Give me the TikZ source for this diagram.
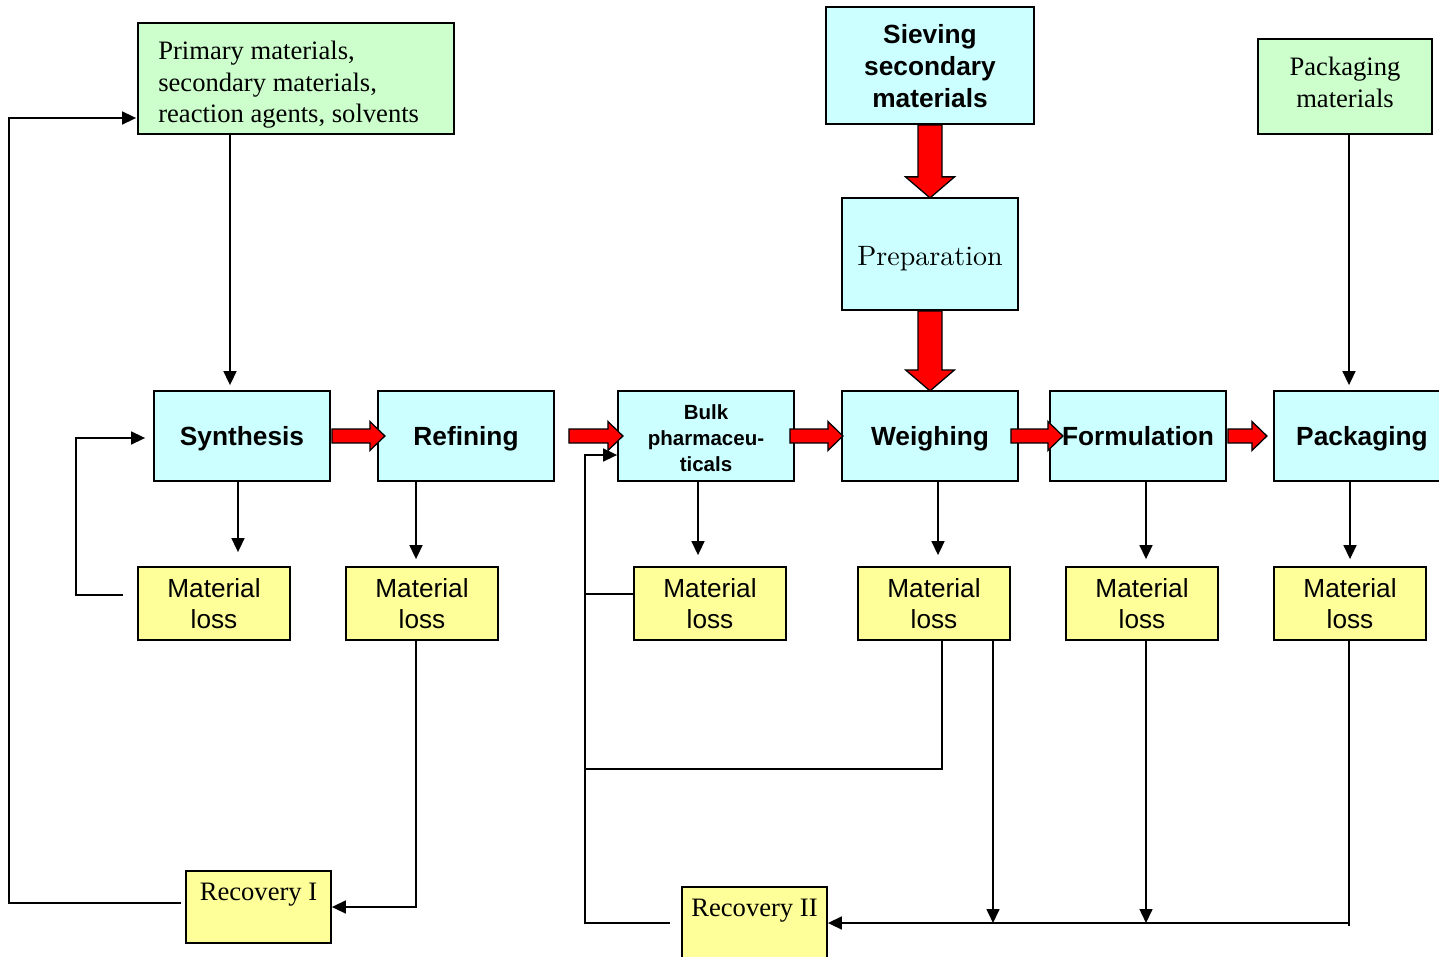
\documentclass[tikz,border=0pt]{standalone}
\usepackage{fontspec}
\newfontfamily\arialfont{Liberation Sans}
\newfontfamily\timesfont{Liberation Serif}
\newfontfamily\lmten{lmroman10-regular}[Extension=.otf]
\usetikzlibrary{arrows.meta,calc}

\definecolor{procfill}{HTML}{CCFFFF}
\definecolor{inputfill}{HTML}{CCFFCC}
\definecolor{lossfill}{HTML}{FFFF99}
\definecolor{flowred}{HTML}{FF0000}

% red block arrow pointing right: start point, total length
\newcommand{\flowright}[2]{%
  \draw[blockarr] ($#1+(0,-7)$) -- ++({#2-15},0) -- ++(0,-7.5) -- ++(15,14.5)
    -- ++(-15,14.5) -- ++(0,-7.5) -- ++({-#2+15},0) -- cycle;}
% red block arrow pointing down: start point, total length
\newcommand{\flowdown}[2]{%
  \draw[blockarr] ($#1+(-12,0)$) -- ++(0,{#2-21}) -- ++(-12.5,0) -- ++(24.5,21)
    -- ++(24.5,-21) -- ++(-12.5,0) -- ++(0,{-#2+21}) -- cycle;}

\begin{document}
\begin{tikzpicture}[x=1pt,y=-1pt,
  box/.style={draw=black, line width=1.8pt, rectangle, inner sep=0pt, align=center},
  proc/.style={box, fill=procfill, minimum width=176pt, minimum height=90pt,
    font=\arialfont\bfseries\fontsize{26.3}{32}\selectfont},
  oneline/.style={text height=19pt, text depth=0pt},
  loss/.style={box, fill=lossfill, minimum width=152pt, minimum height=73pt,
    font=\arialfont\fontsize{26.2}{31}\selectfont},
  recov/.style={box, fill=lossfill, minimum width=145pt},
  input/.style={box, fill=inputfill},
  serif/.style={font=\timesfont\fontsize{26.6}{31.5}\selectfont},
  link/.style={line width=1.6pt, -{Triangle[length=14pt,width=13pt]}},
  plain/.style={line width=1.6pt},
  blockarr/.style={draw=black, line width=1.3pt, fill=flowred, line join=miter},
]
\useasboundingbox (0,0) rectangle (1439,957);

% input boxes
\node[input, minimum width=316pt, minimum height=111pt] (raw) at (296,78.5) {};
\node[serif, anchor=north west, inner sep=0pt, align=left] (raw-t)
  at ($(raw.north west)+(21,19)$)
  {Primary materials,\\secondary materials,\\reaction agents, solvents};
\node[proc, minimum width=208pt, minimum height=117pt] (sieve) at (930,65.5)
  {\rule{0pt}{21pt}Sieving\\secondary\\materials};
\node[input, serif, minimum width=174pt, minimum height=95pt] (pm) at (1345,86.5)
  {Packaging\\materials\rule[-8pt]{0pt}{8pt}};
\node[box, fill=procfill, minimum width=176pt, minimum height=112pt,
  font=\lmten\fontsize{28}{34}\selectfont, text height=24pt, text depth=0pt]
  (prep) at (930,254) {Preparation};

% process chain
\node[proc, oneline] (syn)   at (242,436)  {Synthesis};
\node[proc, oneline] (ref)   at (466,436)  {Refining};
\node[proc, font=\arialfont\bfseries\fontsize{20.5}{26}\selectfont] (bulk)
  at (706,436) {\rule{0pt}{19pt}Bulk\\pharmaceu-\\ticals};
\node[proc, oneline] (weigh) at (930,436)  {Weighing};
\node[proc, oneline] (form)  at (1138,436) {Formulation};
\node[proc, oneline] (pack)  at (1362,436) {Packaging};

% material losses
\node[loss] (ml1) at (214,603.5)  {Material\\loss};
\node[loss] (ml2) at (422,603.5)  {Material\\loss};
\node[loss] (ml3) at (710,603.5)  {Material\\loss};
\node[loss] (ml4) at (934,603.5)  {Material\\loss};
\node[loss] (ml5) at (1142,603.5) {Material\\loss};
\node[loss] (ml6) at (1350,603.5) {Material\\loss};

% recovery
\node[recov, minimum height=72pt] (rec1) at (258.5,907) {};
\node[serif, anchor=base, inner sep=0pt] (rec1-t) at ($(rec1.north)+(0,30.5)$) {Recovery I};
\node[recov, minimum height=88pt] (rec2) at (754.5,931) {};
\node[serif, anchor=base, inner sep=0pt] (rec2-t) at ($(rec2.north)+(0,30.5)$) {Recovery II};

% main flow (red block arrows)
\flowright{([xshift=1pt]syn.east)}{53}
\flowright{([xshift=14pt]ref.east)}{54}
\flowright{([xshift=-5pt]bulk.east)}{53}
\flowright{([xshift=-8pt]weigh.east)}{52}
\flowright{([xshift=1pt]form.east)}{39}
\flowdown{(sieve.south)}{73}
\flowdown{(prep.south)}{80}

% material supply
\draw[link, shorten >=5pt] ([xshift=-66pt]raw.south) -- ([xshift=-12pt]syn.north);
\draw[link, shorten >=5pt] ([xshift=4pt]pm.south) -- ([xshift=4pt]pm.south |- pack.north);

% losses
\draw[link, shorten >=14pt] ([xshift=-4pt]syn.south) -- ([xshift=-4pt]syn.south |- ml1.north);
\draw[link, shorten >=7pt] ([xshift=-50pt]ref.south) -- ([xshift=-50pt]ref.south |- ml2.north);
\draw[link, shorten >=11pt] ([xshift=-8pt]bulk.south) -- ([xshift=-8pt]bulk.south |- ml3.north);
\draw[link, shorten >=11pt] ([xshift=8pt]weigh.south) -- ([xshift=8pt]weigh.south |- ml4.north);
\draw[link, shorten >=7pt] ([xshift=8pt]form.south) -- ([xshift=8pt]form.south |- ml5.north);
\draw[link, shorten >=7pt] ([xshift=-12pt]pack.south) -- ([xshift=-12pt]pack.south |- ml6.north);

% direct reuse after synthesis
\draw[link] ([xshift=-14pt,yshift=8.5pt]ml1.west) -- ++(-47,0)
  |- ([xshift=-8pt,yshift=-2pt]syn.west);

% recovery I loop
\draw[link] ([xshift=-6pt]ml2.south) |- (rec1.east);
\draw[link] ([xshift=-4pt,yshift=4pt]rec1.west) -- ++(-172,0)
  |- ([xshift=-1pt,yshift=-39.5pt]raw.west);

% recovery II loop
\coordinate (bus) at (1349,923);
\draw[plain] ([xshift=-1pt]ml6.south) -- ([yshift=-3pt]bus);
\draw[link] (bus) -- (bus -| rec2.east);
\draw[link] ([xshift=59pt]ml4.south) -- ([xshift=59pt]ml4.south |- bus);
\draw[link] ([xshift=4pt]ml5.south) -- ([xshift=4pt]ml5.south |- bus);
\draw[plain] ([xshift=8pt]ml4.south) |- ++(-356,128);
\draw[plain] ([yshift=9.5pt]ml3.west) -- ++(-48,0);
\draw[link] ([xshift=-11pt,yshift=8pt]rec2.west) -- ++(-85,0)
  |- ([yshift=-19pt]bulk.west);
\end{tikzpicture}
\end{document}
